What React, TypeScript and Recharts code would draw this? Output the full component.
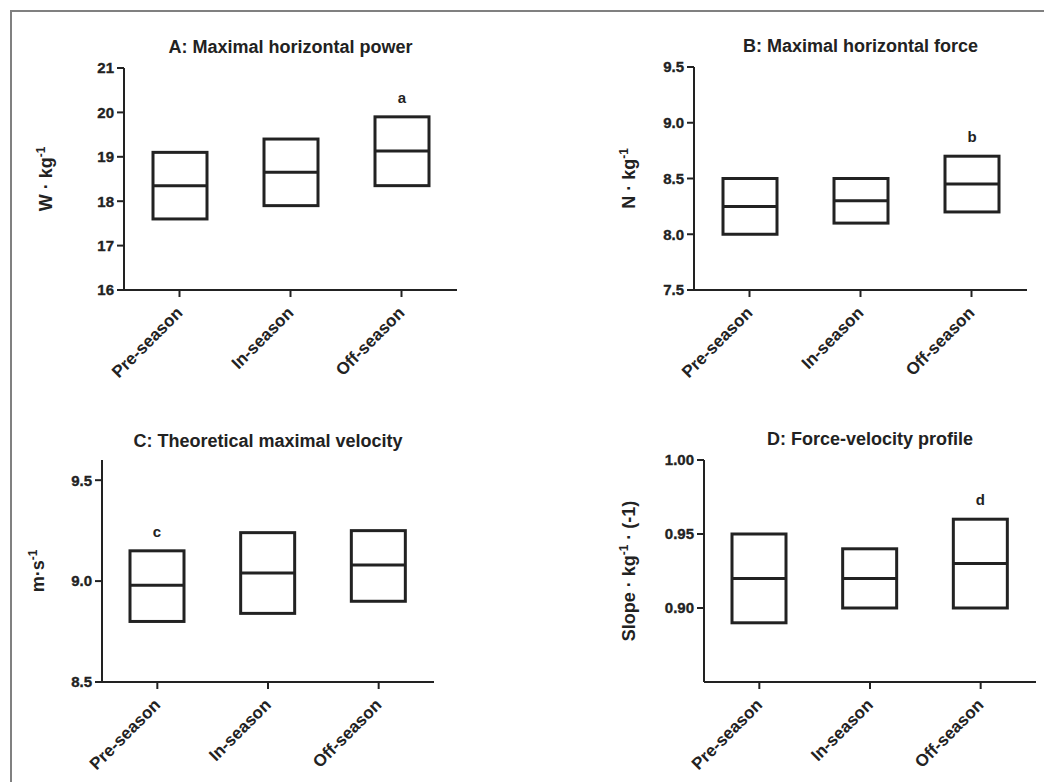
import { ComposedChart, Bar, XAxis, YAxis, LabelList } from 'recharts'

const categories = ['Pre-season', 'In-season', 'Off-season']

// A: maximal horizontal power (W·kg-1)
const powerLow = [17.6, 17.9, 18.35]
const powerMed = [18.35, 18.65, 19.13]
const powerHigh = [19.1, 19.4, 19.9]
const powerMarks = ['', '', 'a']
const powerTicks = [16, 17, 18, 19, 20, 21]

// B: maximal horizontal force (N·kg-1)
const forceLow = [8.0, 8.1, 8.2]
const forceMed = [8.25, 8.3, 8.45]
const forceHigh = [8.5, 8.5, 8.7]
const forceMarks = ['', '', 'b']
const forceTicks = [7.5, 8.0, 8.5, 9.0, 9.5]

// C: theoretical maximal velocity (m·s-1)
const velocityLow = [8.8, 8.84, 8.9]
const velocityMed = [8.98, 9.04, 9.08]
const velocityHigh = [9.15, 9.24, 9.25]
const velocityMarks = ['c', '', '']
const velocityTicks = [8.5, 9.0, 9.5]

// D: force-velocity profile slope
const slopeLow = [0.89, 0.9, 0.9]
const slopeMed = [0.92, 0.92, 0.93]
const slopeHigh = [0.95, 0.94, 0.96]
const slopeMarks = ['', '', 'd']
const slopeTicks = [0.9, 0.95, 1.0]

const INK = '#222'
const FONT = '"Liberation Sans", Arial, Helvetica, sans-serif'

interface Datum {
  name: string
  low: number
  med: number
  high: number
  range: [number, number]
  mark: string
}

function buildData(low: number[], med: number[], high: number[], marks: string[]): Datum[] {
  return categories.map((name, i) => ({
    name,
    low: low[i],
    med: med[i],
    high: high[i],
    range: [low[i], high[i]],
    mark: marks[i],
  }))
}

function BoxShape(props: any) {
  const { x, y, width, height, payload } = props
  if (height == null || !payload) return null
  const my = y + (height * (payload.high - payload.med)) / (payload.high - payload.low)
  return (
    <g>
      <rect x={x} y={y} width={width} height={height} fill="none" stroke={INK} strokeWidth={3} />
      <line x1={x} x2={x + width} y1={my} y2={my} stroke={INK} strokeWidth={3} />
    </g>
  )
}

function CategoryTick(props: any) {
  const { x, y, payload } = props
  const ax = x + 4
  const ay = y + 15
  return (
    <text
      x={ax}
      y={ay}
      transform={`rotate(-45 ${ax} ${ay})`}
      textAnchor="end"
      fill={INK}
      fontSize={17}
      fontWeight="bold"
      fontFamily={FONT}
    >
      {payload.value}
    </text>
  )
}

function ValueTick(props: any) {
  const { x, y, payload, digits } = props
  return (
    <text
      x={x}
      y={y}
      dy="0.36em"
      textAnchor="end"
      fill={INK}
      stroke={INK}
      strokeWidth={0.35}
      fontSize={15}
      fontWeight="bold"
      fontFamily={FONT}
    >
      {Number(payload.value).toFixed(digits)}
    </text>
  )
}

function MarkLabel(props: any) {
  const { x, y, width, value } = props
  if (!value) return null
  return (
    <text
      x={x + width / 2}
      y={y - 14}
      textAnchor="middle"
      fill={INK}
      fontSize={15}
      fontWeight="bold"
      fontFamily={FONT}
    >
      {value}
    </text>
  )
}

interface PanelProps {
  title: string
  unit: string
  sup?: string
  unitTail?: string
  data: Datum[]
  domain: [number, number]
  ticks: number[]
  digits: number
  chartLeft: number
  chartTop: number
  chartWidth: number
  chartHeight: number
  plot: { left: number; right: number; top: number; bottom: number }
  titleBaseline: number
  unitBaseline: number
}

function Panel(p: PanelProps) {
  const yWidth = p.plot.left - p.chartLeft
  const xHeight = p.chartTop + p.chartHeight - p.plot.bottom
  const margin = { top: p.plot.top - p.chartTop, right: p.chartLeft + p.chartWidth - p.plot.right, bottom: 0, left: 0 }
  const lx = p.unitBaseline - p.chartLeft
  const ly = (p.plot.top + p.plot.bottom) / 2 - p.chartTop
  const center = (p.plot.left + p.plot.right) / 2

  const unitLabel = () => (
    <text
      x={lx}
      y={ly}
      transform={`rotate(-90 ${lx} ${ly})`}
      textAnchor="middle"
      fill={INK}
      fontSize={18}
      fontWeight="bold"
      fontFamily={FONT}
    >
      <tspan>{p.unit}</tspan>
      {p.sup && (
        <tspan dy={-7} fontSize={12}>
          {p.sup}
        </tspan>
      )}
      {p.sup && <tspan dy={7}>{p.unitTail ?? ''}</tspan>}
    </text>
  )

  return (
    <>
      <div
        style={{
          position: 'absolute',
          left: center - 200,
          width: 400,
          top: p.titleBaseline - 16.5,
          lineHeight: '20px',
          textAlign: 'center',
          fontFamily: FONT,
          fontWeight: 'bold',
          fontSize: 18,
          color: INK,
          whiteSpace: 'nowrap',
        }}
      >
        {p.title}
      </div>
      <div style={{ position: 'absolute', left: p.chartLeft, top: p.chartTop }}>
        <ComposedChart width={p.chartWidth} height={p.chartHeight} data={p.data} margin={margin}>
          <XAxis
            dataKey="name"
            type="category"
            height={xHeight}
            interval={0}
            tickSize={7}
            axisLine={{ stroke: INK, strokeWidth: 2 }}
            tickLine={{ stroke: INK, strokeWidth: 2 }}
            tick={<CategoryTick />}
          />
          <YAxis
            type="number"
            domain={p.domain}
            ticks={p.ticks}
            allowDataOverflow
            width={yWidth}
            tickSize={7}
            tickMargin={3}
            axisLine={{ stroke: INK, strokeWidth: 2 }}
            tickLine={{ stroke: INK, strokeWidth: 2 }}
            tick={(t: any) => <ValueTick {...t} digits={p.digits} />}
            label={unitLabel}
          />
          <Bar dataKey="range" barSize={54} shape={<BoxShape />} isAnimationActive={false}>
            <LabelList dataKey="mark" content={<MarkLabel />} />
          </Bar>
        </ComposedChart>
      </div>
    </>
  )
}

export default function App() {
  return (
    <div
      style={{
        position: 'absolute',
        left: 0,
        top: 0,
        width: 1044,
        height: 782,
        background: '#fff',
        overflow: 'hidden',
      }}
    >
      <div
        style={{
          position: 'absolute',
          left: 10,
          top: 10,
          width: 1050,
          height: 800,
          borderTop: '2px solid #808080',
          borderLeft: '2px solid #808080',
        }}
      />
      <Panel
        title="A: Maximal horizontal power"
        unit="W · kg"
        sup="-1"
        data={buildData(powerLow, powerMed, powerHigh, powerMarks)}
        domain={[16, 21]}
        ticks={powerTicks}
        digits={0}
        chartLeft={12}
        chartTop={12}
        chartWidth={508}
        chartHeight={388}
        plot={{ left: 124, right: 457, top: 68, bottom: 290 }}
        titleBaseline={53}
        unitBaseline={52}
      />
      <Panel
        title="B: Maximal horizontal force"
        unit="N · kg"
        sup="-1"
        data={buildData(forceLow, forceMed, forceHigh, forceMarks)}
        domain={[7.5, 9.5]}
        ticks={forceTicks}
        digits={1}
        chartLeft={524}
        chartTop={12}
        chartWidth={516}
        chartHeight={388}
        plot={{ left: 694, right: 1027, top: 67, bottom: 290 }}
        titleBaseline={52}
        unitBaseline={635}
      />
      <Panel
        title="C: Theoretical maximal velocity"
        unit="m·s"
        sup="-1"
        data={buildData(velocityLow, velocityMed, velocityHigh, velocityMarks)}
        domain={[8.5, 9.6]}
        ticks={velocityTicks}
        digits={1}
        chartLeft={12}
        chartTop={400}
        chartWidth={508}
        chartHeight={380}
        plot={{ left: 102, right: 434, top: 460, bottom: 682 }}
        titleBaseline={447}
        unitBaseline={44}
      />
      <Panel
        title="D: Force-velocity profile"
        unit="Slope · kg"
        sup="-1"
        unitTail=" · (-1)"
        data={buildData(slopeLow, slopeMed, slopeHigh, slopeMarks)}
        domain={[0.85, 1.0]}
        ticks={slopeTicks}
        digits={2}
        chartLeft={524}
        chartTop={400}
        chartWidth={516}
        chartHeight={380}
        plot={{ left: 704, right: 1036, top: 460, bottom: 682 }}
        titleBaseline={445}
        unitBaseline={635}
      />
    </div>
  )
}
